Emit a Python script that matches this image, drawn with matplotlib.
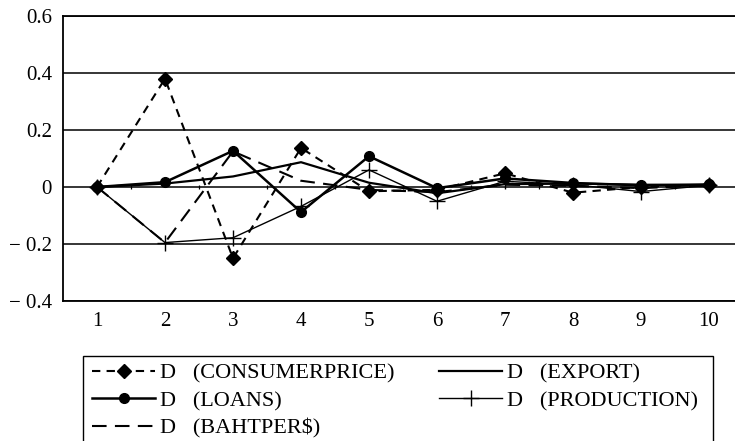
import numpy as np
import matplotlib.pyplot as plt
from matplotlib.patches import Rectangle
from matplotlib.ticker import FixedLocator, FixedFormatter

plt.rcParams['font.family'] = ['Liberation Serif', 'DejaVu Serif']

periods = list(range(1, 11))
consumerprice = [0.0, 0.38, -0.25, 0.137, -0.015, -0.01, 0.048, -0.02, 0.0, 0.008]
export = [0.0, 0.012, 0.037, 0.087, 0.015, -0.022, 0.01, 0.012, 0.008, 0.006]
loans = [0.0, 0.017, 0.127, -0.088, 0.108, -0.004, 0.03, 0.014, 0.006, 0.009]
production = [0.0, -0.195, -0.178, -0.068, 0.06, -0.05, 0.02, 0.008, -0.016, 0.006]
bahtper = [0.0, -0.195, 0.125, 0.022, -0.01, -0.018, 0.008, 0.004, -0.004, 0.006]

yticks = [-0.4, -0.2, 0, 0.2, 0.4, 0.6]
ylabels = ['\u2212 0.4', '\u2212 0.2', '0', '0.2', '0.4', '0.6']

fig = plt.figure(figsize=(7.35, 4.41), dpi=100)
ax = fig.add_axes([63 / 735, 1 - 301 / 441, 680 / 735, 285 / 441])

# horizontal gridlines
for y in yticks:
    ax.axhline(y, color='black', lw=1.1, zorder=1)

# category axis sits on zero with tick marks between categories
ax.vlines(np.arange(1.5, 10, 1), -0.008, 0.008, color='black', lw=0.9, zorder=1)

h_cp, = ax.plot(periods, consumerprice, color='black', lw=1.5, ls=(0, (4, 3)),
                marker='D', ms=7.5, label='D   (CONSUMERPRICE)', zorder=4)
h_ln, = ax.plot(periods, loans, color='black', lw=1.8, marker='o', ms=7,
                label='D   (LOANS)', zorder=4)
h_bt, = ax.plot(periods, bahtper, color='black', lw=1.5, ls=(0, (7, 4)),
                label='D   (BAHTPER$)', zorder=3)
h_ex, = ax.plot(periods, export, color='black', lw=1.6, label='D   (EXPORT)', zorder=3)
h_pr, = ax.plot(periods, production, color='black', lw=1.0, marker='+', ms=11,
                mew=1.0, label='D   (PRODUCTION)', zorder=3)

ax.set_xlim(0.5, 10.5)
ax.set_ylim(-0.4, 0.6)
ax.xaxis.set_major_locator(FixedLocator(periods))
ax.yaxis.set_major_locator(FixedLocator(yticks))
ax.yaxis.set_major_formatter(FixedFormatter(ylabels))
ax.tick_params(axis='both', length=0, labelsize=15)
ax.tick_params(axis='x', pad=8)
ax.tick_params(axis='y', pad=8)
for s in ax.spines.values():
    s.set_linewidth(1.3)

# legend box runs off the bottom of the figure
fig.add_artist(Rectangle((83 / 735, -0.05), (713 - 83) / 735, 1 - 356 / 441 + 0.05,
                         transform=fig.transFigure, fill=False,
                         edgecolor='black', lw=1.0))
leg = fig.legend(handles=[h_cp, h_ln, h_bt, h_ex, h_pr], ncol=2,
                 loc='upper left', bbox_to_anchor=(92 / 735, 1 - 363 / 441),
                 frameon=False, fontsize=16, handlelength=2.85, handletextpad=0.22,
                 columnspacing=2.0, labelspacing=0.32, borderpad=0,
                 borderaxespad=0)

fig.savefig('out.png', dpi=100)
